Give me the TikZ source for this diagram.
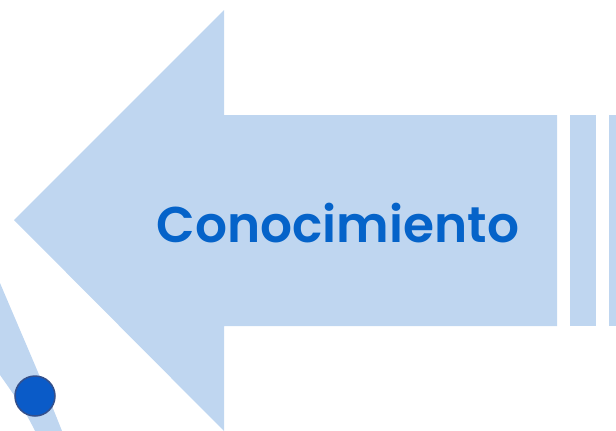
\documentclass[tikz,border=0pt]{standalone}
\usepackage{fontspec}
\setmainfont{Poppins}[BoldFont={Poppins SemiBold}]
\definecolor{lightblu}{HTML}{BFD6F0}
\definecolor{textblu}{HTML}{0563C9}
\definecolor{dotfill}{HTML}{0A5BC8}
\definecolor{dotedge}{HTML}{34508C}
\begin{document}
\begin{tikzpicture}[x=1pt,y=-1pt,
  bluefill/.style={fill=lightblu,draw=none},
  txtlab/.style={text=textblu,font=\bfseries,inner sep=0pt}]
\useasboundingbox (0,0) rectangle (616,431);
% main arrow
\path[bluefill] (14,220) -- (224,10) -- (224,115) -- (557,115) -- (557,326) -- (224,326) -- (224,431) -- cycle;
% strips
\path[bluefill] (570,115) rectangle (596,326);
\path[bluefill] (609,115) rectangle (616,326);
% arc band lower left
\path[bluefill] (0,283) .. controls (22,335) and (44,385) .. (62,431) -- (35,431) .. controls (25,410) and (12,392) .. (0,375) -- cycle;
% dot
\node[circle,fill=dotfill,draw=dotedge,line width=1.5pt,minimum size=40pt,inner sep=0pt] (dot) at (35,396) {};
% label
\node[txtlab] (lbl) at (338,223) {\resizebox{362pt}{!}{Conocimiento}};
\end{tikzpicture}
\end{document}
